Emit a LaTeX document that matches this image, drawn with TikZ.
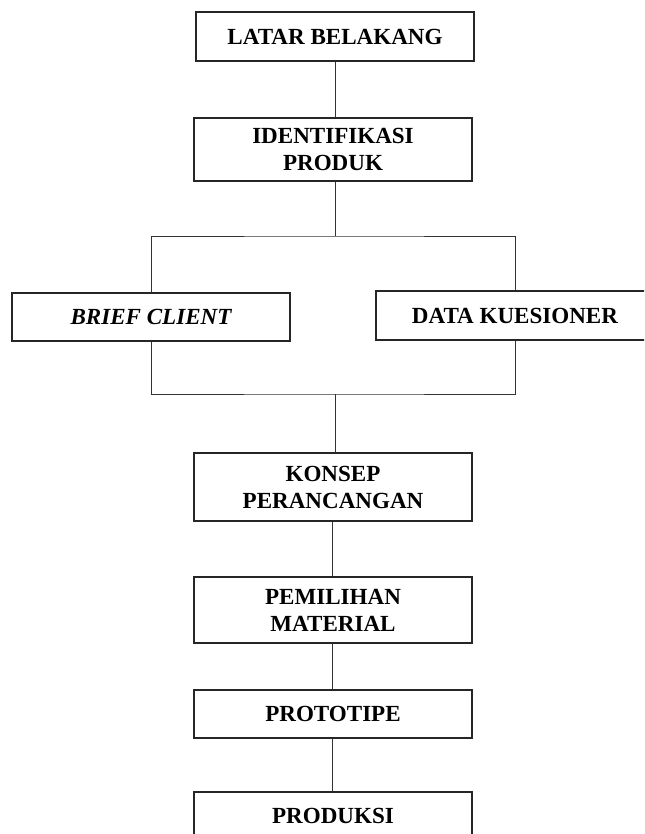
\documentclass[tikz,border=0pt]{standalone}
\usepackage{fontspec}
\setmainfont{Liberation Serif}
\usepackage{tikz}
\usetikzlibrary{positioning}

\begin{document}
\begin{tikzpicture}[x=0.025cm, y=-0.025cm,
            box/.style={draw=black!85, line width=0.9pt, rectangle, minimum width=6.95cm, minimum height=1.2cm, align=center, inner sep=0pt, font=\fontsize{16.4}{19.2}\selectfont\bfseries},
            link/.style={draw=black!80, line width=0.7pt}]

            \useasboundingbox (0,0) rectangle (644,834);
            \clip (0,0) rectangle (644,834);

            \node[box, minimum height=1.225cm] (latar) at (335,36.5) {LATAR BELAKANG};
            \node[box, minimum height=1.575cm] (ident) at (333,149.5) {IDENTIFIKASI\\PRODUK};
            \node[box] (brief) at (151,317) {\itshape BRIEF CLIENT};
            \node[box, minimum height=1.225cm] (data) at (515,315.5) {DATA KUESIONER};
            \node[box, minimum height=1.7cm] (konsep) at (333,487) {KONSEP\\PERANCANGAN};
            \node[box, minimum height=1.65cm] (material) at (333,610) {PEMILIHAN\\MATERIAL};
            \node[box] (proto) at (333,714) {PROTOTIPE};
            \node[box] (produksi) at (333,816) {PRODUKSI};

            \coordinate (split) at (335,236);
            \coordinate (join) at (335,394);

            \draw[link] (latar.south -| 335,0) -- (ident.north -| 335,0);
            \draw[link] (ident.south -| split) -- (split);
            \draw[link] (brief.north) |- (split) -| (data.north);
            \draw[link] (brief.south) |- (join) -| (data.south);
            \draw[link] (join) -- (konsep.north -| join);
            \draw[link] (konsep.south -| 332,0) -- (material.north -| 332,0);
            \draw[link] (material.south -| 332,0) -- (proto.north -| 332,0);
            \draw[link] (proto.south -| 332,0) -- (produksi.north -| 332,0);
        \end{tikzpicture}
\end{document}
